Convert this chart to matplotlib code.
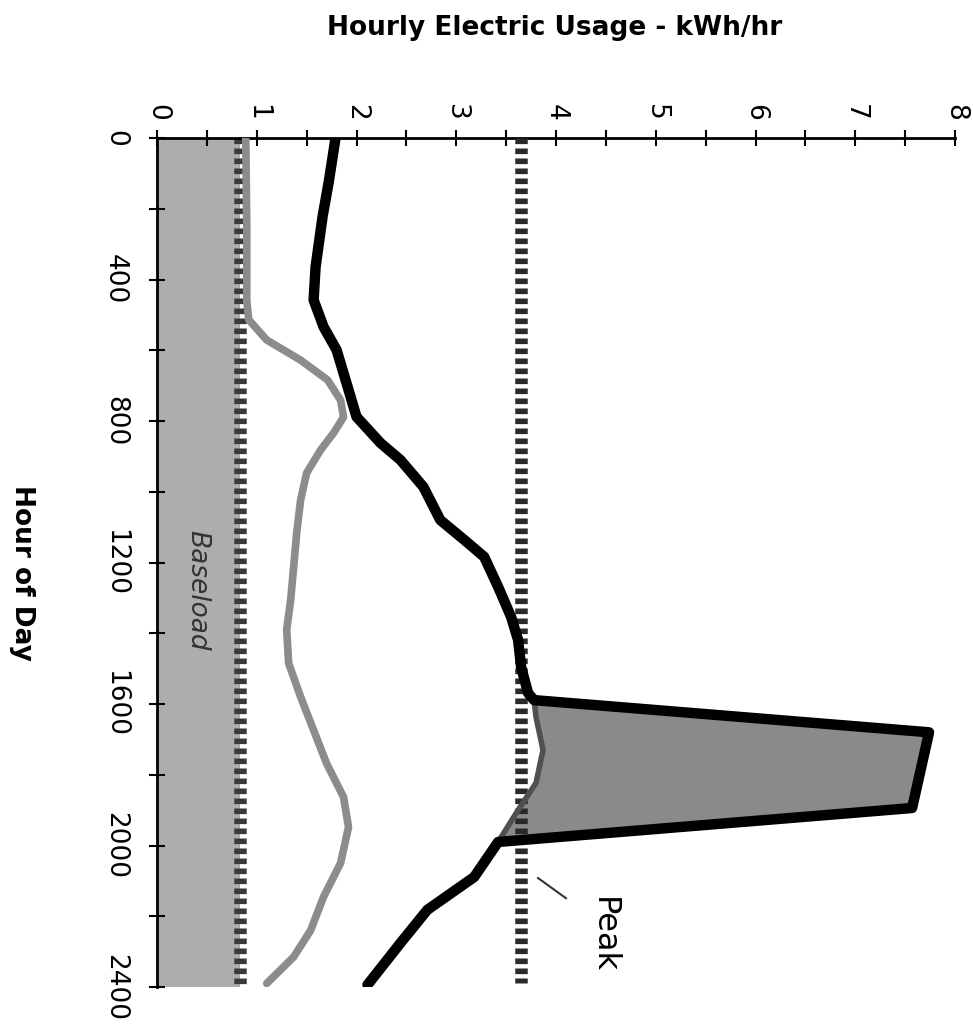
import matplotlib
matplotlib.use('Agg')
import matplotlib.pyplot as plt

# Hour of day vs usage (kWh/hr), chart is drawn rotated: usage across, hours down
total_hours = [0, 127, 222, 364, 458, 534, 599, 693, 788, 862, 910, 986, 1080, 1136, 1184,
               1269, 1354, 1419, 1495, 1569, 1589, 1680, 1894, 1990, 2089, 2182, 2276, 2394]
total_usage = [1.79, 1.72, 1.66, 1.59, 1.57, 1.67, 1.80, 1.90, 2.00, 2.24, 2.44, 2.67, 2.84, 3.08, 3.28,
               3.42, 3.55, 3.62, 3.65, 3.72, 3.78, 7.74, 7.57, 3.42, 3.18, 2.71, 2.44, 2.11]

other_hours = [0, 250, 460, 514, 571, 628, 684, 741, 789, 834, 882, 947, 1023, 1117, 1213,
               1306, 1390, 1485, 1580, 1674, 1768, 1863, 1948, 2050, 2145, 2240, 2315, 2390]
other_usage = [0.89, 0.90, 0.90, 0.92, 1.10, 1.44, 1.71, 1.84, 1.87, 1.77, 1.64, 1.50, 1.44, 1.40, 1.37,
               1.34, 1.30, 1.32, 1.44, 1.57, 1.70, 1.87, 1.92, 1.84, 1.67, 1.54, 1.37, 1.10]

# usage under the peak without the extra load
under_hours = [1589, 1637, 1730, 1823, 1900, 1990]
under_usage = [3.78, 3.80, 3.87, 3.80, 3.62, 3.42]

peak_hours = [1589, 1680, 1894, 1990]
peak_usage = [3.78, 7.74, 7.57, 3.42]

baseload = 0.83
peak_level = 3.65

value_ticks = [0, 1, 2, 3, 4, 5, 6, 7, 8]
hour_ticks = [0, 400, 800, 1200, 1600, 2000, 2400]

fig = plt.figure(figsize=(9.73, 10.3), dpi=100)
W, H = 973, 1030
ax = fig.add_axes([157 / W, 1 - 987 / H, (955 - 157) / W, (987 - 138) / H])

# baseload band
ax.fill_betweenx([0, 2400], 0, baseload, color='#adadad', lw=0, zorder=1)
ax.plot([baseload, baseload], [0, 2400], color='#3a3a3a', lw=9,
        linestyle=(0, (0.45, 0.35)), dash_capstyle='butt', zorder=2)

# peak area
poly_x = peak_usage + under_usage[::-1]
poly_y = peak_hours + under_hours[::-1]
ax.fill(poly_x, poly_y, color='#8a8a8a', lw=0, zorder=2)
ax.plot([peak_level, peak_level], [0, 2390], color='#2a2a2a', lw=9,
        linestyle=(0, (0.45, 0.35)), dash_capstyle='butt', zorder=3)
ax.plot(under_usage, under_hours, color='#505050', lw=4, solid_joinstyle='round',
        solid_capstyle='round', zorder=4)

ax.plot(other_usage, other_hours, color='#8c8c8c', lw=5.5, solid_joinstyle='round',
        solid_capstyle='round', zorder=4)
ax.plot(total_usage, total_hours, color='black', lw=7.5, solid_joinstyle='round',
        solid_capstyle='round', zorder=5)

ax.text(0.40, 1278, 'Baseload', rotation=-90, ha='center', va='center',
        fontsize=19, style='italic', color='#333333', zorder=6)
ax.text(4.47, 2253, 'Peak', rotation=-90, ha='center', va='center', fontsize=23, zorder=6)
ax.plot([3.82, 4.10], [2092, 2149], color='#333333', lw=1.5, zorder=6)

ax.set_xlim(0, 8)
ax.set_ylim(2400, 0)
ax.xaxis.tick_top()
ax.set_xticks(value_ticks)
ax.set_xticks([v + 0.5 for v in value_ticks[:-1]], minor=True)
ax.set_yticks(hour_ticks)
ax.set_yticks([h + 200 for h in hour_ticks[:-1]], minor=True)
ax.set_xticklabels([str(v) for v in value_ticks], rotation=-90, fontsize=19)
ax.set_yticklabels([str(h) for h in hour_ticks], rotation=-90, va='center', fontsize=19)
ax.tick_params(which='both', direction='inout', length=11, width=1.5)
ax.tick_params(axis='x', which='both', pad=7)
ax.tick_params(axis='y', which='both', pad=15.5)

for side in ['right', 'bottom']:
    ax.spines[side].set_visible(False)
for side in ['top', 'left']:
    ax.spines[side].set_linewidth(2)

fig.text(555 / W, 1 - 28 / H, 'Hourly Electric Usage - kWh/hr', ha='center', va='center',
         fontsize=19, fontweight='bold')
fig.text(22 / W, 1 - 573 / H, 'Hour of Day', rotation=-90, ha='center', va='center',
         fontsize=19, fontweight='bold')

fig.savefig('out.png', dpi=100)
